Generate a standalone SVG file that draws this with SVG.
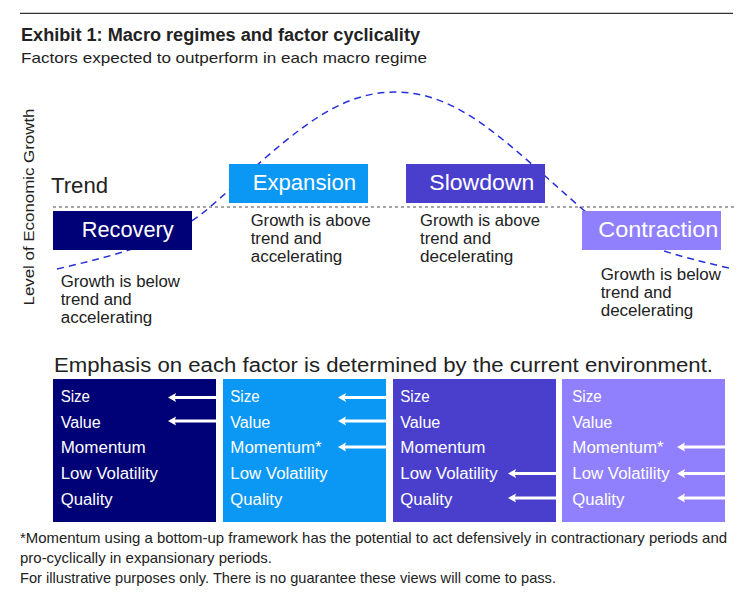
<svg xmlns="http://www.w3.org/2000/svg" width="750" height="600" viewBox="0 0 750 600">
<defs>
<style>
text{font-family:"Liberation Sans",Arial,sans-serif;fill:#222;}
.t{font-size:17.5px;font-weight:bold;}
.sub{font-size:15px;}
.ax{font-size:15.5px;}
.big{font-size:21.5px;}
.bl{font-size:21.5px;fill:#fff;}
.d{font-size:16px;}
.em{font-size:20px;}
.f{font-size:16px;fill:#fff;}
.fn{font-size:14.5px;}
.arr{fill:#fff;}
</style>
<path id="ar" d="M0,0 L8,-4.5 L7,-1.5 L48,-1.5 L48,1.5 L7,1.5 L8,4.5 Z"/>
</defs>
<rect width="750" height="600" fill="#fff"/>
<line x1="20" y1="13.3" x2="733" y2="13.3" stroke="#333" stroke-width="1.3"/>
<text class="t" x="21" y="40.5" textLength="399" lengthAdjust="spacingAndGlyphs">Exhibit 1: Macro regimes and factor cyclicality</text>
<text class="sub" x="21" y="63" textLength="406" lengthAdjust="spacingAndGlyphs">Factors expected to outperform in each macro regime</text>
<text class="ax" transform="translate(34,207) rotate(-90)" text-anchor="middle" textLength="197" lengthAdjust="spacingAndGlyphs">Level of Economic Growth</text>
<text class="big" x="51" y="193" textLength="57" lengthAdjust="spacingAndGlyphs">Trend</text>
<g id="connectors">
<line x1="53" y1="207" x2="735" y2="207" stroke="#888" stroke-width="1.5" stroke-dasharray="3,3"/>
<path d="M57,269 C117,255 170,242 210,207 C282,144 330,92 395,92 C460,92 508,144 580,207 C620,242 673,255 733,269" fill="none" stroke="#2430d8" stroke-width="1.5" stroke-dasharray="7,5"/>
</g>
<g id="recovery">
<rect x="53" y="211" width="139" height="39" fill="#000077"/>
<text class="bl" x="81.7" y="237" textLength="92" lengthAdjust="spacingAndGlyphs">Recovery</text>
<text class="d" x="60.7" y="287" textLength="119.3" lengthAdjust="spacingAndGlyphs">Growth is below</text>
<text class="d" x="60.7" y="305" textLength="71" lengthAdjust="spacingAndGlyphs">trend and</text>
<text class="d" x="60.7" y="323" textLength="91.6" lengthAdjust="spacingAndGlyphs">accelerating</text>
</g>
<g id="expansion">
<rect x="229" y="164" width="139" height="39" fill="#0b98f5"/>
<text class="bl" x="252.7" y="190" textLength="103.3" lengthAdjust="spacingAndGlyphs">Expansion</text>
<text class="d" x="250.7" y="226" textLength="120" lengthAdjust="spacingAndGlyphs">Growth is above</text>
<text class="d" x="250.7" y="244" textLength="71" lengthAdjust="spacingAndGlyphs">trend and</text>
<text class="d" x="250.7" y="262" textLength="91.6" lengthAdjust="spacingAndGlyphs">accelerating</text>
</g>
<g id="slowdown">
<rect x="406" y="164" width="139" height="39" fill="#4a3fcd"/>
<text class="bl" x="429.3" y="190" textLength="105" lengthAdjust="spacingAndGlyphs">Slowdown</text>
<text class="d" x="420" y="226" textLength="120" lengthAdjust="spacingAndGlyphs">Growth is above</text>
<text class="d" x="420" y="244" textLength="71" lengthAdjust="spacingAndGlyphs">trend and</text>
<text class="d" x="420" y="262" textLength="93.3" lengthAdjust="spacingAndGlyphs">decelerating</text>
</g>
<g id="contraction">
<rect x="582" y="211" width="139" height="39" fill="#9080fd"/>
<text class="bl" x="598.3" y="237" textLength="120" lengthAdjust="spacingAndGlyphs">Contraction</text>
<text class="d" x="600.7" y="280" textLength="120.3" lengthAdjust="spacingAndGlyphs">Growth is below</text>
<text class="d" x="600.7" y="298" textLength="71" lengthAdjust="spacingAndGlyphs">trend and</text>
<text class="d" x="600.7" y="316" textLength="92.6" lengthAdjust="spacingAndGlyphs">decelerating</text>
</g>
<text class="em" x="54" y="371.7" textLength="659" lengthAdjust="spacingAndGlyphs">Emphasis on each factor is determined by the current environment.</text>
<g id="factors-recovery">
<rect x="53" y="379" width="163" height="143" fill="#000077"/>
<text class="f" x="60.7" y="402" textLength="29.3" lengthAdjust="spacingAndGlyphs">Size</text>
<text class="f" x="60.7" y="427.7" textLength="40" lengthAdjust="spacingAndGlyphs">Value</text>
<text class="f" x="60.7" y="453.4" textLength="85" lengthAdjust="spacingAndGlyphs">Momentum</text>
<text class="f" x="60.7" y="479.1" textLength="97.3" lengthAdjust="spacingAndGlyphs">Low Volatility</text>
<text class="f" x="60.7" y="504.8" textLength="52" lengthAdjust="spacingAndGlyphs">Quality</text>
<use href="#ar" class="arr" x="168" y="397.5"/>
<use href="#ar" class="arr" x="168" y="421"/>
</g>
<g id="factors-expansion">
<rect x="223" y="379" width="163" height="143" fill="#0b98f5"/>
<text class="f" x="230.3" y="402" textLength="29.3" lengthAdjust="spacingAndGlyphs">Size</text>
<text class="f" x="230.3" y="427.7" textLength="40" lengthAdjust="spacingAndGlyphs">Value</text>
<text class="f" x="230.3" y="453.4" textLength="91.3" lengthAdjust="spacingAndGlyphs">Momentum*</text>
<text class="f" x="230.3" y="479.1" textLength="97.3" lengthAdjust="spacingAndGlyphs">Low Volatility</text>
<text class="f" x="230.3" y="504.8" textLength="52" lengthAdjust="spacingAndGlyphs">Quality</text>
<use href="#ar" class="arr" x="338" y="397.5"/>
<use href="#ar" class="arr" x="338" y="421"/>
<use href="#ar" class="arr" x="338" y="447"/>
</g>
<g id="factors-slowdown">
<rect x="393" y="379" width="163" height="143" fill="#4a3fcd"/>
<text class="f" x="400.3" y="402" textLength="29.3" lengthAdjust="spacingAndGlyphs">Size</text>
<text class="f" x="400.3" y="427.7" textLength="40" lengthAdjust="spacingAndGlyphs">Value</text>
<text class="f" x="400.3" y="453.4" textLength="85" lengthAdjust="spacingAndGlyphs">Momentum</text>
<text class="f" x="400.3" y="479.1" textLength="97.3" lengthAdjust="spacingAndGlyphs">Low Volatility</text>
<text class="f" x="400.3" y="504.8" textLength="52" lengthAdjust="spacingAndGlyphs">Quality</text>
<use href="#ar" class="arr" x="508" y="473.5"/>
<use href="#ar" class="arr" x="508" y="498"/>
</g>
<g id="factors-contraction">
<rect x="562" y="379" width="163" height="143" fill="#9080fd"/>
<text class="f" x="572.3" y="402" textLength="29.3" lengthAdjust="spacingAndGlyphs">Size</text>
<text class="f" x="572.3" y="427.7" textLength="40" lengthAdjust="spacingAndGlyphs">Value</text>
<text class="f" x="572.3" y="453.4" textLength="91.3" lengthAdjust="spacingAndGlyphs">Momentum*</text>
<text class="f" x="572.3" y="479.1" textLength="97.3" lengthAdjust="spacingAndGlyphs">Low Volatility</text>
<text class="f" x="572.3" y="504.8" textLength="52" lengthAdjust="spacingAndGlyphs">Quality</text>
<use href="#ar" class="arr" x="677" y="447"/>
<use href="#ar" class="arr" x="677" y="473.5"/>
<use href="#ar" class="arr" x="677" y="498"/>
</g>
<text class="fn" x="20" y="543" textLength="707" lengthAdjust="spacingAndGlyphs">*Momentum using a bottom-up framework has the potential to act defensively in contractionary periods and</text>
<text class="fn" x="20" y="563" textLength="252" lengthAdjust="spacingAndGlyphs">pro-cyclically in expansionary periods.</text>
<text class="fn" x="20" y="583" textLength="536" lengthAdjust="spacingAndGlyphs">For illustrative purposes only. There is no guarantee these views will come to pass.</text>
</svg>
